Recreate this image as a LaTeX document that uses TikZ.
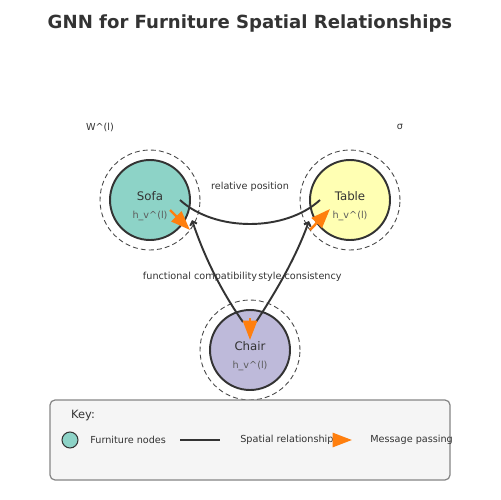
\documentclass[tikz,border=0pt]{standalone}
\usepackage{fontspec}
\setmainfont{DejaVu Sans}
\usetikzlibrary{arrows.meta,calc}
\definecolor{ink}{HTML}{333333}
\definecolor{sofacol}{HTML}{8DD3C7}
\definecolor{tablecol}{HTML}{FFFFB3}
\definecolor{chaircol}{HTML}{BEBADA}
\definecolor{msgcol}{HTML}{FF7F0E}
\definecolor{keyfill}{HTML}{F5F5F5}
\begin{document}
\begin{tikzpicture}[x=0.02cm,y=-0.02cm,
	furn/.style={circle,draw=ink,line width=1.1pt,minimum size=1.6cm,inner sep=0pt},
	ring/.style={circle,draw=ink!90,dash pattern=on 2.8pt off 1.8pt,line width=0.5pt,minimum size=2cm,inner sep=0pt},
	furnname/.style={text=ink,font=\fontsize{6.7}{8}\selectfont},
	hlbl/.style={text=ink!80,font=\fontsize{5.5}{7}\selectfont},
	lbl/.style={text=ink,font=\fontsize{5.5}{7}\selectfont},
	rel/.style={draw=ink,line width=1.1pt},
	msg/.style={draw=msgcol,line width=1.4pt,-{Triangle[length=11pt,width=8pt]}}]
	\useasboundingbox (0,0) rectangle (500,500);
	\node[text=ink,font=\fontsize{10.3}{12}\selectfont\bfseries] (title) at (250,24) {GNN for Furniture Spatial Relationships};

	\node[ring] (sofaring) at (150,200) {};
	\node[ring] (tablering) at (350,200) {};
	\node[ring] (chairring) at (250,350) {};
	\node[furn,fill=sofacol] (sofa) at (150,200) {};
	\node[furn,fill=tablecol] (table) at (350,200) {};
	\node[furn,fill=chaircol] (chair) at (250,350) {};

	\node[furnname] (sofaname) at (150,196) {Sofa};
	\node[furnname] (tablename) at (350,196) {Table};
	\node[furnname] (chairname) at (250,346) {Chair};
	\node[hlbl] (sofah) at (150,216) {h\_v\textasciicircum(l)};
	\node[hlbl] (tableh) at (350,216) {h\_v\textasciicircum(l)};
	\node[hlbl] (chairh) at (250,366) {h\_v\textasciicircum(l)};

	\node[lbl] (weight) at (100,127) {W\textasciicircum(l)};
	\node[lbl] (sigma) at (400,127) {σ};

	\draw[rel] ($(sofa)!0.15!(table)$) .. controls (215,232) and (285,232) .. ($(table)!0.15!(sofa)$);
	\draw[rel,{Straight Barb[length=2pt,width=4pt]}-] ([shift={(42,20)}]sofa.center) .. controls (204,256) and (221,291) .. ([shift={(-7,-28)}]chair.center);
	\draw[rel,{Straight Barb[length=2pt,width=4pt]}-] ([shift={(-41,21)}]table.center) .. controls (296,257) and (277,290) .. ([shift={(6,-28)}]chair.center);

	\node[lbl] (posl) at (250,187) {relative position};
	\node[lbl] (funcl) at (200,277) {functional compatibility};
	\node[lbl] (stylel) at (300,277) {style consistency};

	\draw[msg] ([shift={(20,10)}]sofa.center) -- ([shift={(40,30)}]sofa.center);
	\draw[msg] ([shift={(-40,30)}]table.center) -- ([shift={(-20,9)}]table.center);
	\draw[msg] ([shift={(0,-32)}]chair.center) -- ([shift={(0,-10)}]chair.center);

	\draw[draw=ink!60,fill=keyfill,line width=0.7pt,rounded corners=0.1cm] (50,400) rectangle (450,480);
	\node[text=ink,font=\fontsize{6.5}{8}\selectfont] (keytitle) at (83,416) {Key:};
	\node[furn,fill=sofacol,line width=0.6pt,minimum size=0.32cm] (keynode) at (70,440) {};
	\node[lbl,anchor=west,inner sep=0pt] (keyfurn) at (90,440) {Furniture nodes};
	\coordinate (keya) at (180,440);
	\coordinate (keyb) at (220,440);
	\draw[rel] (keya) -- (keyb);
	\node[lbl,anchor=west,inner sep=0pt] (keyrel) at (240,440) {Spatial relationship};
	\coordinate (keyc) at (333,440);
	\coordinate (keyd) at (352,440);
	\draw[msg] (keyc) -- (keyd);
	\node[lbl,anchor=west,inner sep=0pt] (keymsg) at (370,440) {Message passing};
\end{tikzpicture}
\end{document}
